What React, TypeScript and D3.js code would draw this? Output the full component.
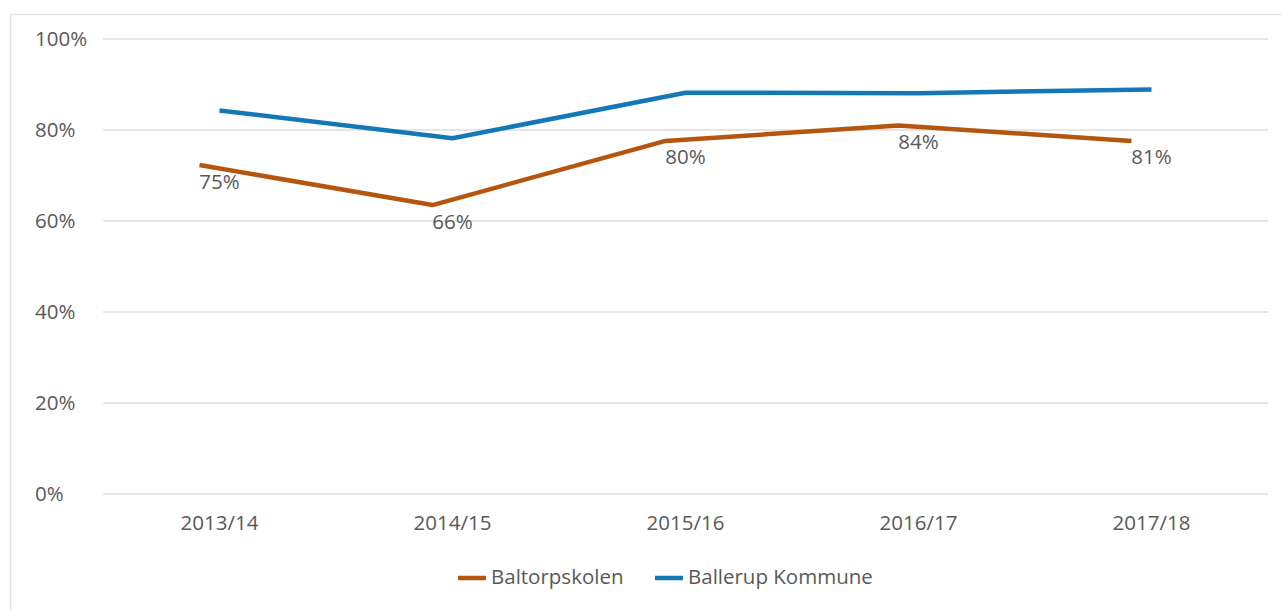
import { useEffect, useRef } from "react";
import * as d3 from "d3";

const years = ["2013/14", "2014/15", "2015/16", "2016/17", "2017/18"];
const baltorp = [0.723, 0.635, 0.776, 0.81, 0.776];
const ballerup = [0.843, 0.782, 0.882, 0.881, 0.889];
const baltorpLabels = ["75%", "66%", "80%", "84%", "81%"];
const yTicks = [0, 0.2, 0.4, 0.6, 0.8, 1];
const seriesNames = ["Baltorpskolen", "Ballerup Kommune"];
const colors = ["#b5560f", "#1478b6"];

export default function App() {
  const svgRef = useRef<SVGSVGElement | null>(null);

  useEffect(() => {
    const svg = d3.select(svgRef.current);
    svg.selectAll("*").remove();

    const width = 1281, height = 610;
    const margin = { top: 39, right: 13, bottom: 116, left: 103 };
    const innerW = width - margin.left - margin.right;
    const innerH = height - margin.top - margin.bottom;
    const font = "'Open Sans', 'Noto Sans', sans-serif";
    const fontSize = "20.5px";
    const textColor = "#595959";

    svg.append("rect").attr("width", width).attr("height", height).attr("fill", "#fff");
    // chart frame, only top and left edges are visible in the crop
    svg.append("rect").attr("x", 10.5).attr("y", 14.5).attr("width", width + 20).attr("height", height + 20)
      .attr("fill", "none").attr("stroke", "#e3e3e3").attr("stroke-width", 1.5);

    const g = svg.append("g").attr("transform", `translate(${margin.left},${margin.top})`);

    const x = d3.scaleBand().domain(years).range([0, innerW]);
    const y = d3.scaleLinear().domain([0, 1]).range([innerH, 0]);
    const cx = (d: string) => (x(d) ?? 0) + x.bandwidth() / 2;

    g.selectAll(".grid").data(yTicks).enter().append("line")
      .attr("x1", 0).attr("x2", innerW)
      .attr("y1", d => y(d)).attr("y2", d => y(d))
      .attr("stroke", "#dedede").attr("stroke-width", 1.5);

    g.selectAll(".ylab").data(yTicks).enter().append("text")
      .attr("x", 35 - margin.left).attr("y", d => y(d) + 2)
      .attr("dominant-baseline", "middle")
      .style("font-family", font).style("font-size", fontSize).style("fill", textColor)
      .text(d => d3.format(".0%")(d));

    g.selectAll(".xlab").data(years).enter().append("text")
      .attr("x", d => cx(d)).attr("y", innerH + 31)
      .attr("dominant-baseline", "middle").attr("text-anchor", "middle")
      .style("font-family", font).style("font-size", fontSize).style("fill", textColor)
      .text(d => d);

    const line = d3.line<number>().x((_, i) => cx(years[i])).y(d => y(d));

    // Baltorpskolen line sits slightly left of the category centres in the original
    g.append("path").datum(baltorp).attr("d", line).attr("transform", "translate(-20,0)")
      .attr("fill", "none").attr("stroke", colors[0]).attr("stroke-width", 4.5)
      .attr("stroke-linejoin", "round");

    g.append("path").datum(ballerup).attr("d", line)
      .attr("fill", "none").attr("stroke", colors[1]).attr("stroke-width", 4.5)
      .attr("stroke-linejoin", "round");

    g.selectAll(".dlab").data(baltorp).enter().append("text")
      .attr("x", (_, i) => cx(years[i])).attr("y", d => y(d) + 18)
      .attr("dominant-baseline", "middle").attr("text-anchor", "middle")
      .style("font-family", font).style("font-size", fontSize).style("fill", textColor)
      .text((_, i) => baltorpLabels[i]);

    // legend
    const legendX = [458, 655];
    const legend = svg.append("g").attr("transform", "translate(0,578)");
    seriesNames.forEach((name, i) => {
      legend.append("line").attr("x1", legendX[i]).attr("x2", legendX[i] + 28)
        .attr("y1", 0).attr("y2", 0)
        .attr("stroke", colors[i]).attr("stroke-width", 4.5);
      legend.append("text").attr("x", legendX[i] + 33).attr("y", 1)
        .attr("dominant-baseline", "middle")
        .style("font-family", font).style("font-size", fontSize).style("fill", textColor)
        .text(name);
    });
  }, []);

  return (
    <svg ref={svgRef} width={1281} height={610}
      style={{ position: "absolute", left: 0, top: 0, display: "block" }} />
  );
}
